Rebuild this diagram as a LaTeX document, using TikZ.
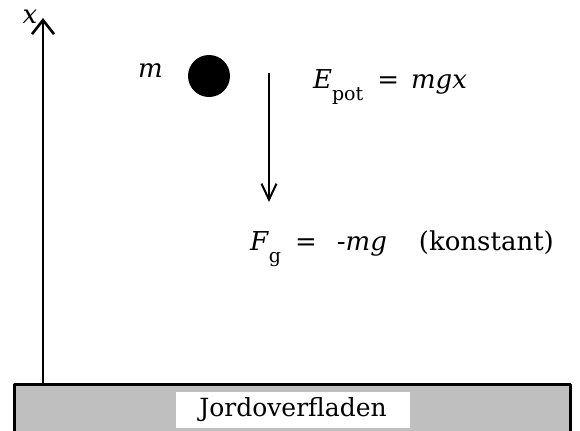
\documentclass[tikz,border=0pt]{standalone}
\usepackage{fontspec}
\setmainfont{DejaVu Serif}
\usetikzlibrary{arrows.meta}
\definecolor{ground}{HTML}{BFBFBF}
\tikzset{fig/.style={line join=round,line width=1.1pt,x=0.5pt,y=-0.5pt,font=\fontsize{13}{15}\selectfont},
  lbl/.style={inner sep=0pt,anchor=base west}}
\newcommand{\lowidx}[1]{\raisebox{-6pt}{\fontsize{9.5}{11}\selectfont #1}}

\begin{document}
\begin{tikzpicture}[fig]
  \useasboundingbox (0,0) rectangle (580,430);
  \draw[fill=ground,line width=1.5pt] (14,384) rectangle (570,436);
  \node[fill=white,minimum width=117pt,minimum height=18pt,inner sep=0pt,font=\fontsize{12.5}{14}\selectfont] (jord) at (293,410) {Jordoverfladen};
  \coordinate (o) at (43,384); \coordinate (top) at (43,18);
  \draw[line width=1.3pt,-{Straight Barb[length=7pt,width=11pt]}] (o) -- (top);
  \node[inner sep=0pt] (xl) at (30,17) {\textit{x}};
  \node[lbl] (m) at (137,77) {\textit{m}};
  \node[circle,fill=black,minimum size=21pt,inner sep=0pt] (ball) at (209,76) {};
  \coordinate (fa) at (269,73); \coordinate (fb) at (269,202);
  \draw[line width=1pt,-{Straight Barb[length=8pt,width=7.5pt]}] (fa) -- (fb);
  \node[lbl] (epot) at (312,88) {\textit{E}\lowidx{pot}\hspace{7pt}=\hspace{6pt}\textit{mgx}};
  \node[lbl] (fg) at (249,250) {\textit{F}\lowidx{g}\hspace{7pt}=\hspace{10pt}-\textit{mg}\hspace{16pt}(konstant)};
\end{tikzpicture}
\end{document}
